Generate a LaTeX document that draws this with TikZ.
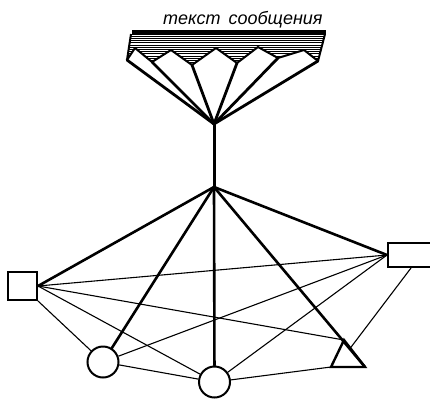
\documentclass[tikz,border=0pt]{standalone}
\usepackage{fontspec}
\setmainfont{Liberation Sans}
\usetikzlibrary{calc}
\tikzset{
  thickline/.style={line width=2.6pt, line cap=round},
  thinline/.style={line width=1.1pt},
  shapeborder/.style={draw, line width=2pt, inner sep=0pt},
  funnel/.style={line width=2.8pt, line cap=round, line join=round},
}
\begin{document}
\begin{tikzpicture}[x=1pt,y=-1pt]
\clip (0,0) rectangle (430,399);
\fill[white] (0,0) rectangle (430,399);

% text
\node[anchor=base west, inner sep=0pt, font=\fontsize{18}{22}\selectfont\itshape] (txt) at (163,24) {текст\hspace{0.45em}сообщения};

% funnel coordinates
\coordinate (L)  at (127,60);
\coordinate (K0) at (135,48);
\coordinate (V1) at (152,62);
\coordinate (K1) at (171,50);
\coordinate (V2) at (192,65);
\coordinate (K2) at (216,48);
\coordinate (V3) at (237,63);
\coordinate (K3) at (258,47);
\coordinate (V4) at (278,58);
\coordinate (K4) at (304,50);
\coordinate (R)  at (318,61);
\coordinate (BL) at (131,34);
\coordinate (BR) at (325,34);
\coordinate (C)  at (214,124);
\coordinate (H)  at (214,187);

% hatched band
\begin{scope}
  \clip (BL) -- (BR) -- (R) -- (K4) -- (V4) -- (K3) -- (V3) -- (K2) -- (V2) -- (K1) -- (V1) -- (K0) -- (L) -- cycle;
  \foreach \yy in {34,36.2,...,66} {
    \draw[line width=1pt] (120,\yy) -- (330,\yy);
  }
\end{scope}
\draw[line width=2pt, line join=round] (BL) -- (L) -- (K0) -- (V1) -- (K1) -- (V2) -- (K2) -- (V3) -- (K3) -- (V4) -- (K4) -- (R) -- (BR);
\draw[line width=3.2pt] (132,32) -- (326,32);
\draw[line width=1pt] (133,36) -- (322,36);

% funnel lines
\foreach \p in {L,V1,V2,V3,V4,R} {
  \draw[funnel] (C) -- (\p);
}
\draw[line width=3pt] (C) -- (H);

% nodes
\node[shapeborder, rectangle, minimum width=29pt, minimum height=28pt] (sq) at (22.5,286) {};
\node[shapeborder, rectangle, minimum width=46pt, minimum height=24pt] (rr) at (411,255) {};
\node[shapeborder, circle, minimum size=31pt] (lc) at (103,362) {};
\node[shapeborder, circle, minimum size=31pt] (bc) at (214.5,382) {};
\coordinate (ta) at (344,340);
\coordinate (tl) at (331,367);
\coordinate (tr) at (365,367);
\coordinate (tright) at ($(ta)!0.3!(tr)$);
\draw[line width=2.4pt, line join=miter] (ta) -- (tl) -- (tr) -- cycle;

% thin connectors
\draw[thinline] (sq.east) -- (rr.west);
\draw[thinline] (sq.east) -- (ta);
\draw[thinline] (sq.east) -- (bc);
\draw[thinline] (sq.south east) -- (lc);
\draw[thinline] (rr.west) -- (lc);
\draw[thinline] (rr.west) -- (bc);
\draw[thinline] (rr.south) -- (tright);
\draw[thinline] (lc) -- (bc);
\draw[thinline] (bc) -- (tl);

% thick connectors from hub
\draw[thickline] (H) -- (sq.east);
\draw[thickline] (H) -- (rr.west);
\draw[thickline] (H) -- (lc);
\draw[thickline] (H) -- (bc);
\draw[thickline] (H) -- (tr);
\end{tikzpicture}
\end{document}
